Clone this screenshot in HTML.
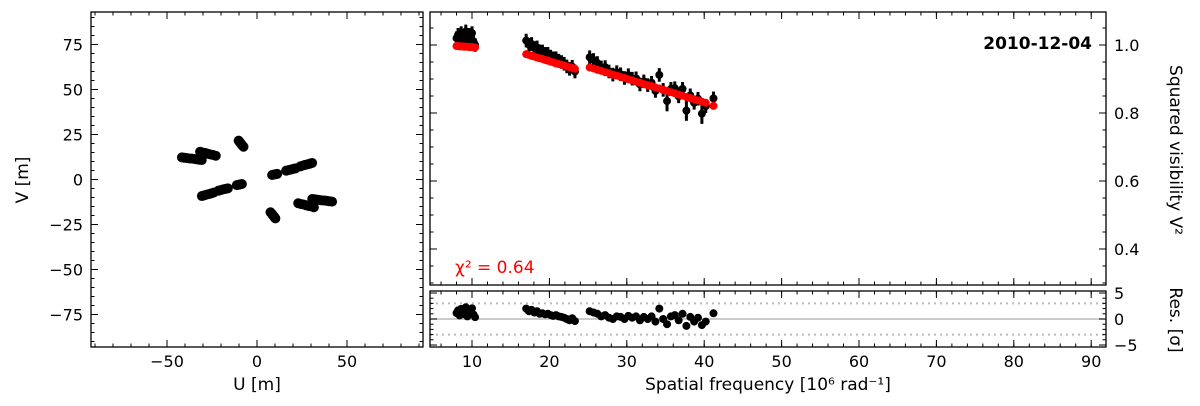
<!DOCTYPE html>
<html><head><meta charset="utf-8"><style>
html,body{margin:0;padding:0;background:#fff}
svg{display:block;font-family:"DejaVu Sans","Liberation Sans",sans-serif}
</style></head><body>
<svg id="c" width="1200" height="406" viewBox="0 0 1200 406"></svg>
<script>
// ---- UV coverage data (m) ----
const uvU = [-41.7,-40.3,-38.9,-37.5,-36.1,-34.7,-33.3,-31.9,-30.7,
 -31.6,-30.2,-28.7,-27.3,-25.8,-24.4,-22.9,
 -10.2,-9.6,-8.9,-8.2,-7.5,
 -30.6,-29.3,-28.0,-26.7,-25.4,-24.1,
 -21.4,-20.1,-18.8,-17.5,-16.2,
 -11.2,-10.2,-9.3,-8.4];
const uvV = [12.3,12.1,11.9,11.7,11.6,11.4,11.2,11.0,10.8,
 15.4,15.0,14.7,14.3,13.9,13.6,13.2,
 21.6,20.8,19.9,19.0,18.2,
 -9.2,-8.8,-8.4,-8.1,-7.7,-7.3,
 -6.2,-5.9,-5.5,-5.2,-4.9,
 -3.1,-2.9,-2.7,-2.5];
// ---- visibility data ----
const freq = [8.0,8.2,8.4,8.6,8.8,9.0,9.2,9.4,9.6,9.8,10.0,10.2,10.4,
 17.0,17.35,17.7,18.05,18.4,18.75,19.1,19.45,19.8,20.15,20.5,20.85,21.2,21.55,21.9,22.25,22.6,22.95,23.3,
 25.2,25.7,26.2,26.7,27.2,27.7,28.2,28.7,29.2,29.7,30.2,30.7,31.2,31.7,32.2,32.7,33.2,33.7,34.2,34.7,35.2,35.7,36.2,36.7,37.2,37.7,38.2,38.7,39.2,39.7,40.2,41.2];
const v2obs = [1.02,1.03,1.01,1.035,1.015,1.025,1.04,1.005,1.03,1.02,1.035,1.01,1.0,
 1.013,1.001,1.003,0.991,0.993,0.981,0.981,0.974,0.974,0.966,0.961,0.961,0.954,0.950,0.945,0.937,0.930,0.936,0.922,
 0.964,0.956,0.947,0.934,0.935,0.922,0.913,0.920,0.914,0.903,0.911,0.901,0.902,0.884,0.893,0.882,0.889,0.865,0.912,0.868,0.835,0.871,0.873,0.849,0.871,0.807,0.852,0.830,0.842,0.798,0.820,0.843];
const v2err = [0.02,0.02,0.02,0.02,0.02,0.02,0.02,0.02,0.02,0.02,0.02,0.02,0.02,
 0.02,0.02,0.02,0.02,0.02,0.02,0.02,0.02,0.02,0.02,0.02,0.02,0.02,0.02,0.02,0.02,0.02,0.02,0.02,
 0.02,0.02,0.02,0.02,0.02,0.02,0.02,0.02,0.02,0.02,0.02,0.02,0.02,0.02,0.02,0.02,0.02,0.02,0.02,0.02,0.03,0.02,0.02,0.02,0.02,0.03,0.02,0.02,0.02,0.03,0.02,0.02];
const v2mod = [0.997,0.997,0.996,0.996,0.996,0.995,0.995,0.995,0.994,0.994,0.994,0.993,0.993,
 0.973,0.971,0.968,0.966,0.963,0.961,0.959,0.956,0.954,0.951,0.949,0.946,0.944,0.942,0.940,0.937,0.935,0.933,0.930,
 0.934,0.931,0.927,0.924,0.920,0.917,0.913,0.910,0.906,0.903,0.899,0.896,0.892,0.889,0.885,0.882,0.879,0.875,0.872,0.868,0.865,0.861,0.858,0.854,0.851,0.847,0.844,0.840,0.837,0.833,0.830,0.821];
const chi2Label = "χ² = 0.64";

const NS="http://www.w3.org/2000/svg", svg=document.getElementById('c');
function mk(tag,at,parent){const e=document.createElementNS(NS,tag);for(const k in at)e.setAttribute(k,at[k]);(parent||svg).appendChild(e);return e;}

const L={x0:91,x1:423,y0:12,y1:347};
const uX=u=>257+u*1.8, uY=v=>179.5-v*1.8;
const T={x0:430,x1:1106,y0:12,y1:285};
const fX=f=>394.6+f*7.74, vY=v=>45+(1-v)*340;
const rY=r=>319-r*5.2;

function line(x1,y1,x2,y2,st,w,name,extra){const e=mk('line',Object.assign({x1,y1,x2,y2,stroke:st,'stroke-width':w},extra||{}));return e;}
function text(x,y,s,o,name){const e=mk('text',Object.assign({x,y,'font-size':16,fill:'#000'},o||{}));e.textContent=s;return e;}

line(T.x0,rY(0),T.x1,rY(0),'#bbb',1.5,'residual-zero-line');
line(T.x0,rY(3),T.x1,rY(3),'#bbb',2,'residual-upper-3sigma',{'stroke-dasharray':'2,4'});
line(T.x0,rY(-3),T.x1,rY(-3),'#bbb',2,'residual-lower-3sigma',{'stroke-dasharray':'2,4'});

for(let i=0;i<uvU.length;i++){
  for(const s of [1,-1]){
    const c=mk('circle',{cx:uX(s*uvU[i]),cy:uY(s*uvV[i]),r:5,fill:'#000'});
    
    
  }
}
for(let i=0;i<freq.length;i++){
  const x=fX(freq[i]);
  line(x,vY(v2obs[i]+v2err[i]),x,vY(v2obs[i]-v2err[i]),'#000',3,'v2-error-bar');
  const c=mk('circle',{cx:x,cy:vY(v2obs[i]),r:4,fill:'#000'});
  
  
}
for(let i=0;i<freq.length;i++){
  const c=mk('circle',{cx:fX(freq[i]),cy:vY(v2mod[i]),r:4,fill:'#f00'});
  
  
}
for(let i=0;i<freq.length;i++){
  const r=(v2obs[i]-v2mod[i])/v2err[i];
  const c=mk('circle',{cx:fX(freq[i]),cy:rY(r),r:4,fill:'#000'});
  
  
}

for(const [b,n] of [[L,'uv-frame'],[T,'v2-frame'],[{x0:430,x1:1106,y0:291,y1:347},'residual-frame']]){
  const r=mk('rect',{x:b.x0,y:b.y0,width:b.x1-b.x0,height:b.y1-b.y0,fill:'none',stroke:'#000','stroke-width':1.3});
  
}
function xticks(b,fx,lo,hi,step,len,labels,name){
  for(let k=Math.ceil(lo/step-1e-9);k*step<=hi+1e-9;k++){const v=k*step,x=fx(v);if(x<b.x0||x>b.x1)continue;
    line(x,b.y1,x,b.y1-len,'#000',1,name);line(x,b.y0,x,b.y0+len,'#000',1,name);
    if(labels)text(x,b.y1+20,String(Math.round(v)).replace('-','−'),{'text-anchor':'middle'},name+'-label');}
}
function yticks(b,fy,lo,hi,step,len,lab,side,name){
  for(let k=Math.ceil(lo/step-1e-9);k*step<=hi+1e-9;k++){const v=k*step,y=fy(v);if(y<b.y0-0.5||y>b.y1+0.5)continue;
    line(b.x0,y,b.x0+len,y,'#000',1,name);line(b.x1,y,b.x1-len,y,'#000',1,name);
    if(lab){const s=lab(v);if(side==='left')text(b.x0-8,y+6,s,{'text-anchor':'end'},name+'-label');else text(b.x1+8,y+6,s,{'text-anchor':'start'},name+'-label');}}
}
xticks(L,uX,-90,90,50,7,true,'u-tick');xticks(L,uX,-90,90,10,3.5,false,'u-minor-tick');
yticks(L,uY,-90,90,25,7,v=>String(v).replace('-','−'),'left','v-tick');yticks(L,uY,-90,90,5,3.5,null,'left','v-minor-tick');
const B={x0:430,x1:1106,y0:291,y1:347};
xticks(T,fX,0,92,10,7,false,'freq-top-tick');xticks(T,fX,0,92,2,3.5,false,'freq-top-minor');
xticks(B,fX,0,92,10,7,true,'freq-tick');xticks(B,fX,0,92,2,3.5,false,'freq-minor-tick');
yticks(T,vY,0.3,1.1,0.2,7,v=>v.toFixed(1),'right','v2-tick');yticks(T,vY,0.3,1.1,0.05,3.5,null,'right','v2-minor-tick');
yticks(B,rY,-5,5,5,7,v=>String(v).replace('-','−'),'right','res-tick');yticks(B,rY,-5,5,1,3.5,null,'right','res-minor-tick');

text(257,390,'U [m]',{'text-anchor':'middle','font-size':17},'u-axis-title');
text(0,0,'V [m]',{'text-anchor':'middle','font-size':17,transform:'translate(28,180) rotate(-90)'},'v-axis-title');
text(768,390,'Spatial frequency [10⁶ rad⁻¹]',{'text-anchor':'middle','font-size':17},'freq-axis-title');
text(0,0,'Squared visibility V²',{'text-anchor':'middle','font-size':17,transform:'translate(1170,150) rotate(90)'},'v2-axis-title');
text(0,0,'Res. [σ]',{'text-anchor':'middle','font-size':17,transform:'translate(1170,320) rotate(90)'},'res-axis-title');
text(1092,49,'2010-12-04',{'text-anchor':'end','font-weight':'bold','font-size':17},'date-label');
text(455,273,chi2Label,{'fill':'#f00','font-size':17},'chi2-label');
</script>
</body></html>
